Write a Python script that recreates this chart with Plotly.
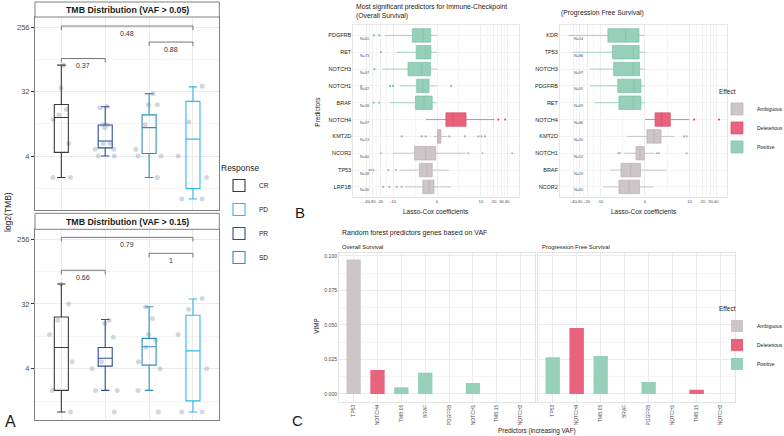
import numpy as np
import plotly.graph_objects as go

W, H = 784, 436
FONT = "Liberation Sans, Arial, sans-serif"
INK = "#1a1a1a"
TICK = "#4d4d4d"
GRID = "#ebebeb"
GRID_MINOR = "#f5f5f5"


def PX(x):
    return x / W


def PY(y):
    return 1 - y / H


# ======================= Panel A data (TMB, log2 axis) =======================
responses = ["CR", "PR", "SD", "PD"]
legend_rank = {"CR": 1, "PD": 2, "PR": 3, "SD": 4}
resp_colors = {"CR": "#3a3a3a", "PR": "#2b4d97", "SD": "#2b8ec0", "PD": "#35b6ec"}

vaf05_q1 = [4.5, 5.2, 4.35, 1.4]
vaf05_median = [13.9, 6.5, 10.0, 6.9]
vaf05_q3 = [21.1, 10.9, 15.1, 23.3]
vaf05_low = [2.0, 4.0, 2.0, 1.0]
vaf05_high = [75, 19.6, 30, 37.3]
vaf05_points = {
    "CR": [75, 36, 18, 15, 13, 6, 2, 2],
    "PR": [20, 19, 11, 10, 11, 6, 6, 5, 5, 4, 4],
    "SD": [30, 21, 21, 11, 5, 4, 4, 2],
    "PD": [38, 12, 4, 2, 1, 1],
}

vaf15_q1 = [2.0, 4.35, 4.5, 1.43]
vaf15_median = [7.9, 5.6, 8.1, 7.1]
vaf15_q3 = [21.0, 7.9, 10.6, 22.2]
vaf15_low = [1.0, 2.0, 2.0, 1.0]
vaf15_high = [60.5, 19.4, 29.2, 37.5]
vaf15_points = {
    "CR": [60, 32, 19, 12, 5, 2, 1],
    "PR": [19, 17, 11, 5, 4, 2, 2, 1],
    "SD": [29, 20, 12, 10, 8, 5, 4, 2, 1],
    "PD": [38, 27, 12, 4, 1, 1],
}

comparisons = [("CR", "PD"), ("SD", "PD"), ("CR", "PR")]
vaf05_pvalues = ["0.48", "0.88", "0.37"]
vaf15_pvalues = ["0.79", "1", "0.66"]
vaf05_bracket_tmb = [265, 158, 93]
vaf15_bracket_tmb = [270, 162, 94]

a_ticks = [4, 32, 256]
a_minor = [2 ** 0.5, 2 ** 3.5, 2 ** 6.5]

# ======================= Panel B data (Lasso-Cox coefficients) =======================
effects = ["Ambiguous", "Deleterious", "Positive"]
eff_fill = {"Ambiguous": "#cdc5c7", "Deleterious": "#e8637b", "Positive": "#96d0b8"}
eff_line = {"Ambiguous": "#b9b0b2", "Deleterious": "#d94f6a", "Positive": "#7cc3a6"}

os_pred = ["PDGFRB", "RET", "NOTCH3", "NOTCH1", "BRAF", "NOTCH4", "KMT2D", "NCOR2", "TP53", "LRP1B"]
os_effect = ["Positive", "Positive", "Positive", "Positive", "Positive",
             "Deleterious", "Ambiguous", "Ambiguous", "Ambiguous", "Ambiguous"]
os_n = [61, 73, 67, 62, 58, 97, 53, 60, 58, 56]
os_q1 = [-3.40, -2.64, -4.40, -2.58, -2.80, 0.97, 0.04, -2.96, -2.14, -1.64]
os_med = [-1.57, -1.27, -1.80, -1.64, -1.47, 1.86, 0.18, -1.27, -1.13, -0.86]
os_q3 = [-0.67, -0.65, -0.71, -0.86, -0.51, 4.40, 0.42, -0.14, -0.51, -0.32]
os_lo = [-15.4, -8.2, -17.9, -6.96, -11.6, -1.23, -0.38, -9.9, -6.9, -5.2]
os_hi = [0.0, 0.0, 0.0, 0.0, 0.0, 20.4, 1.07, 4.54, 1.35, 1.62]
os_out = [[-27.6, -20.9], [-19.1], [-27.1], [-11.7, -10.1, -54.6, 1.62], [-27.9, -20.9],
          [25.2, 36.2], [-6.26, -1.80, -1.27, 1.39, 4.12, 8.74, 10.4, 12.5],
          [-19.3, 5.0, 10.8, 52.4], [-35.2, -32.2, -28.5, -12.9, -8.6], [-16.9, -12.2, -8.2, -6.3]]

pfs_pred = ["KDR", "TP53", "NOTCH3", "PDGFRB", "RET", "NOTCH4", "KMT2D", "NOTCH1", "BRAF", "NCOR2"]
pfs_effect = ["Positive", "Positive", "Positive", "Positive", "Positive",
              "Deleterious", "Ambiguous", "Ambiguous", "Ambiguous", "Ambiguous"]
pfs_n = [54, 86, 97, 91, 69, 86, 50, 52, 59, 60]
pfs_q1 = [-6.7, -5.24, -4.86, -3.86, -3.6, 1.09, 0.20, -0.97, -3.18, -3.6]
pfs_med = [-2.35, -1.30, -1.30, -1.20, -1.30, 1.94, 0.97, -0.53, -1.62, -1.86]
pfs_q3 = [-0.63, -0.61, -0.57, -0.42, -0.42, 3.44, 1.86, -0.08, -0.48, -0.57]
pfs_lo = [-53.0, -40.8, -17.2, -17.2, -13.3, 0.0, -2.12, -2.58, -5.94, -8.56]
pfs_hi = [-0.08, 0.0, 0.04, 0.0, 0.0, 9.87, 4.36, 0.97, 2.74, 0.89]
pfs_out = [[], [], [], [], [], [12.6, 46.0], [7.4, 8.56], [-3.72, -3.40, 1.32, 1.59, 8.56], [], []]

coef_ticks = [-40, -30, -20, -10, 0, 10, 20, 30, 40]

# ======================= Panel C data (VIMP) =======================
vimp_pred = ["TP53", "NOTCH4", "TMB.05", "BRAF", "PDGFRB", "NOTCH1", "TMB.15", "NOTCH3"]
os_vimp = [0.0973, 0.0173, 0.0048, 0.0154, 0.0, 0.0079, 0.0, 0.0]
os_vimp_effect = ["Ambiguous", "Deleterious", "Positive", "Positive", None, "Positive", None, None]
pfs_vimp = [0.0265, 0.0477, 0.0275, 0.0, 0.0087, 0.0, 0.0031, 0.0]
pfs_vimp_effect = ["Positive", "Deleterious", "Positive", None, "Positive", None, "Deleterious", None]
vimp_ticks = [0.0, 0.025, 0.05, 0.075, 0.1]


def pseudo_log(v):
    return np.arcsinh(np.asarray(v, dtype=float) / 2.0)


fig = go.Figure()

# ----------------------------- Panel A traces -----------------------------
a_panels = [
    ("x", "y", vaf05_q1, vaf05_median, vaf05_q3, vaf05_low, vaf05_high, vaf05_points,
     vaf05_bracket_tmb, vaf05_pvalues, True),
    ("x2", "y2", vaf15_q1, vaf15_median, vaf15_q3, vaf15_low, vaf15_high, vaf15_points,
     vaf15_bracket_tmb, vaf15_pvalues, False),
]
annotations = []
for xa, ya, q1, med, q3, lo, hi, pts, br_y, pv, show in a_panels:
    for i, g in enumerate(responses):
        fig.add_trace(go.Box(
            x=[g] * len(pts[g]), y=pts[g], xaxis=xa, yaxis=ya, orientation="v",
            boxpoints="all", jitter=1, pointpos=0, width=0.8,
            fillcolor="rgba(0,0,0,0)", line=dict(color="rgba(0,0,0,0)", width=0),
            marker=dict(color="rgba(140,150,175,0.38)", size=5),
            showlegend=False, hoverinfo="skip"))
        fig.add_trace(go.Box(
            x=[g], q1=[q1[i]], median=[med[i]], q3=[q3[i]],
            lowerfence=[lo[i]], upperfence=[hi[i]], orientation="v",
            xaxis=xa, yaxis=ya, name=g, width=0.32, whiskerwidth=0.6,
            boxpoints=False, fillcolor="rgba(255,255,255,0)",
            line=dict(color=resp_colors[g], width=1.1),
            legend="legend", legendgroup=g, showlegend=show,
            legendrank=legend_rank[g]))
    for (g1, g2), yb, p in zip(comparisons, br_y, pv):
        tip = yb / 2 ** 0.19
        fig.add_trace(go.Scatter(
            x=[g1, g1, g2, g2], y=[tip, yb, yb, tip], xaxis=xa, yaxis=ya,
            mode="lines", line=dict(color="#6b6b6b", width=0.9),
            showlegend=False, hoverinfo="skip"))
        annotations.append(dict(
            x=(responses.index(g1) + responses.index(g2)) / 2, y=np.log10(yb),
            xref=xa, yref=ya, text=p, showarrow=False, xanchor="center", yanchor="top",
            yshift=-1.5, font=dict(size=7, color="#333333", family=FONT)))

# ----------------------------- Panel B traces -----------------------------
b_panels = [
    ("x3", "y3", os_pred, os_effect, os_n, os_q1, os_med, os_q3, os_lo, os_hi, os_out, True, 0.03),
    ("x4", "y4", pfs_pred, pfs_effect, pfs_n, pfs_q1, pfs_med, pfs_q3, pfs_lo, pfs_hi, pfs_out, False, 0.07),
]
for xa, ya, pred, eff, nn, q1, med, q3, lo, hi, out, show, nx in b_panels:
    for e_i, e in enumerate(effects):
        idx = [i for i, v in enumerate(eff) if v == e]
        if not idx:
            continue
        fig.add_trace(go.Box(
            y=[pred[i] for i in idx], orientation="h",
            q1=pseudo_log([q1[i] for i in idx]), median=pseudo_log([med[i] for i in idx]),
            q3=pseudo_log([q3[i] for i in idx]), lowerfence=pseudo_log([lo[i] for i in idx]),
            upperfence=pseudo_log([hi[i] for i in idx]),
            xaxis=xa, yaxis=ya, name=e, width=0.8, whiskerwidth=0, boxpoints=False,
            fillcolor=eff_fill[e], line=dict(color=eff_line[e], width=0.7),
            legend="legend2", showlegend=show, legendrank=e_i + 1))
        ox, oy = [], []
        for i in idx:
            ox += out[i]
            oy += [pred[i]] * len(out[i])
        if ox:
            fig.add_trace(go.Scatter(
                x=pseudo_log(ox), y=oy, xaxis=xa, yaxis=ya, mode="markers",
                marker=dict(color=eff_line[e], size=2.2), showlegend=False, hoverinfo="skip"))
    for p, n in zip(pred, nn):
        annotations.append(dict(
            x=nx, y=p, xref=f"{xa} domain", yref=ya, text=f"N={n}", showarrow=False,
            xanchor="left", yanchor="middle", yshift=-3.5,
            font=dict(size=3.8, color="#555555", family=FONT)))

# ----------------------------- Panel C traces -----------------------------
c_panels = [("x5", "y5", os_vimp, os_vimp_effect, True), ("x6", "y6", pfs_vimp, pfs_vimp_effect, False)]
for xa, ya, vals, veff, show in c_panels:
    for e_i, e in enumerate(effects):
        idx = [i for i, v in enumerate(veff) if v == e]
        if not idx:
            continue
        fig.add_trace(go.Bar(
            x=[vimp_pred[i] for i in idx], y=[vals[i] for i in idx], xaxis=xa, yaxis=ya,
            name=e, width=0.6, marker=dict(color=eff_fill[e], line=dict(width=0)),
            legend="legend3", showlegend=show, legendrank=e_i + 1))

# ----------------------------- Axes -----------------------------
base_font = dict(family=FONT, color=TICK)
a_y_ranges = {"y": [-0.51, 8.47], "y2": [-0.37, 8.45]}
a_domains = {"y": [PY(210), PY(17)], "y2": [PY(420), PY(229.3)]}
for xa, ya in [("x", "y"), ("x2", "y2")]:
    xk = "xaxis" if xa == "x" else "xaxis2"
    yk = "yaxis" if ya == "y" else "yaxis2"
    fig.layout[xk] = dict(
        domain=[PX(35), PX(219.3)], anchor=ya, type="category", categoryorder="array",
        categoryarray=responses, range=[-0.6, 3.6], showticklabels=False, ticks="",
        showgrid=True, gridcolor=GRID, gridwidth=1, zeroline=False, automargin=False,
        showline=True, mirror=True, linecolor="#808080", linewidth=1)
    lr = a_y_ranges[ya]
    fig.layout[yk] = dict(
        domain=a_domains[ya], anchor=xa, type="log", automargin=False,
        range=[lr[0] * np.log10(2), lr[1] * np.log10(2)],
        tickmode="array", tickvals=a_ticks, ticktext=[str(t) for t in a_ticks],
        ticks="outside", ticklen=3, tickcolor="#333333", tickwidth=0.8,
        tickfont=dict(size=7.5, **base_font),
        showgrid=True, gridcolor=GRID, zeroline=False,
        minor=dict(tickmode="array", tickvals=a_minor, showgrid=True, gridcolor=GRID_MINOR, ticks=""),
        showline=True, mirror=True, linecolor="#808080", linewidth=1)

coef_tv = pseudo_log(coef_ticks)
coef_minor = (coef_tv[:-1] + coef_tv[1:]) / 2
b_cfg = [("xaxis3", "yaxis3", "x3", "y3", [353.3, 519], [-4.41, 4.32], os_pred),
         ("xaxis4", "yaxis4", "x4", "y4", [560, 726.7], [-4.40, 4.23], pfs_pred)]
for xk, yk, xa, ya, dom, rng, pred in b_cfg:
    fig.layout[xk] = dict(
        domain=[PX(dom[0]), PX(dom[1])], anchor=ya, range=rng, autorange=False, automargin=False,
        tickmode="array", tickvals=coef_tv, ticktext=[str(t) for t in coef_ticks],
        tickangle=0, tickfont=dict(size=4.3, **base_font), ticks="",
        showgrid=True, gridcolor="#eeeeee",
        minor=dict(tickmode="array", tickvals=coef_minor, showgrid=True, gridcolor="#f6f6f6"),
        zeroline=False, showline=True, mirror=True, linecolor="#e6e6e6", linewidth=1)
    fig.layout[yk] = dict(
        domain=[PY(197), PY(25.3)], anchor=xa, type="category", categoryorder="array",
        categoryarray=pred, range=[9.6, -0.6], ticks="", automargin=False,
        tickfont=dict(size=5.5, family=FONT, color=INK),
        showgrid=True, gridcolor="#f3f3f3", zeroline=False,
        showline=True, mirror=True, linecolor="#e6e6e6", linewidth=1)

c_cfg = [("xaxis5", "yaxis5", "x5", "y5", [339.3, 535], True),
         ("xaxis6", "yaxis6", "x6", "y6", [538.3, 735], False)]
for xk, yk, xa, ya, dom, labels in c_cfg:
    fig.layout[xk] = dict(
        domain=[PX(dom[0]), PX(dom[1])], anchor=ya, type="category", categoryorder="array",
        categoryarray=vimp_pred, range=[-0.6, 7.6], tickangle=-90, ticks="", automargin=False,
        tickfont=dict(size=5, **base_font), showgrid=True, gridcolor=GRID, zeroline=False,
        showline=True, mirror=True, linecolor="#e3e3e3", linewidth=1)
    fig.layout[yk] = dict(
        domain=[PY(401.7), PY(252.7)], anchor=xa, range=[-0.0056, 0.1022], automargin=False,
        tickmode="array", tickvals=vimp_ticks, ticktext=[f"{v:.3f}" for v in vimp_ticks],
        showticklabels=labels, ticks="", tickfont=dict(size=5.2, **base_font),
        showgrid=True, gridcolor=GRID, zeroline=False,
        minor=dict(tickmode="array", tickvals=[0.0125, 0.0375, 0.0625, 0.0875],
                   showgrid=True, gridcolor=GRID_MINOR),
        showline=True, mirror=True, linecolor="#e3e3e3", linewidth=1)


# ----------------------------- Text -----------------------------
def text(x, y, s, size, color=INK, **kw):
    d = dict(x=PX(x), y=PY(y), xref="paper", yref="paper", text=s, showarrow=False,
             xanchor="center", yanchor="middle",
             font=dict(size=size, color=color, family=FONT))
    d.update(kw)
    annotations.append(d)


text(127, 9.5, "<b>TMB Distribution (VAF &gt; 0.05)</b>", 8.8)
text(127, 221.5, "<b>TMB Distribution (VAF &gt; 0.15)</b>", 8.8)
text(8, 212, "log2(TMB)", 8.5, textangle=-90)
text(10, 421, "A", 16)
text(300, 212, "B", 15)
text(297, 420, "C", 15)
text(354, 1, "Most significant predictors for Immune-Checkpoint<br>(Overall Survival)", 6.8,
     xanchor="left", yanchor="top", align="left")
text(559.3, 13.3, "(Progression Free Survival)", 6.8, xanchor="left")
text(318, 111.7, "Predictors", 6.5, textangle=-90)
text(436, 211.7, "Lasso-Cox coefficients", 6.5)
text(644, 211.7, "Lasso-Cox coefficients", 6.5)
text(340, 233.3, "Random forest predictors genes based on VAF", 7, xanchor="left")
text(340, 246.7, "Overall Survival", 5.9, xanchor="left")
text(540, 246.7, "Progression Free Survival", 5.9, xanchor="left")
text(317, 326.7, "VIMP", 6.3, textangle=-90)
text(536.5, 430.5, "Predictors (increasing VAF)", 6.4)

shapes = [
    dict(type="rect", xref="paper", yref="paper", x0=PX(35), x1=PX(219.3), y0=PY(17), y1=PY(2),
         fillcolor="#ffffff", line=dict(color="#808080", width=1)),
    dict(type="rect", xref="paper", yref="paper", x0=PX(35), x1=PX(219.3), y0=PY(229.3), y1=PY(213.3),
         fillcolor="#ffffff", line=dict(color="#808080", width=1)),
]

fig.update_layout(
    width=W, height=H, margin=dict(l=0, r=0, t=0, b=0, autoexpand=False),
    paper_bgcolor="white", plot_bgcolor="white", boxmode="overlay", barmode="overlay",
    font=dict(family=FONT, color=INK),
    annotations=annotations, shapes=shapes,
    legend=dict(title=dict(text="Response", font=dict(size=8.5, family=FONT, color=INK)),
                font=dict(size=6.5, family=FONT, color=INK), x=PX(219), y=PY(160),
                xanchor="left", yanchor="top", tracegroupgap=5, bgcolor="rgba(0,0,0,0)"),
    legend2=dict(title=dict(text="Effect", font=dict(size=6.5, family=FONT, color=INK)),
                 font=dict(size=5.0, family=FONT, color=INK), x=PX(717), y=PY(86),
                 xanchor="left", yanchor="top", tracegroupgap=0, bgcolor="rgba(0,0,0,0)"),
    legend3=dict(title=dict(text="Effect", font=dict(size=6.5, family=FONT, color=INK)),
                 font=dict(size=5.0, family=FONT, color=INK), x=PX(717), y=PY(303),
                 xanchor="left", yanchor="top", tracegroupgap=0, bgcolor="rgba(0,0,0,0)"),
)

fig.write_html("out.html", config={"displayModeBar": False},
               post_script="document.body.style.margin='0';")
